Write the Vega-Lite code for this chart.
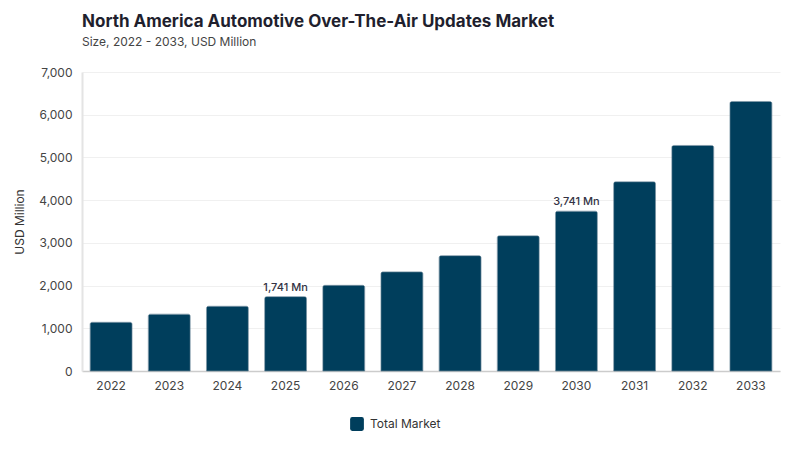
{
  "$schema": "https://vega.github.io/schema/vega-lite/v6.json",
  "width": 698,
  "height": 299,
  "autosize": {"type": "none"},
  "padding": {"left": 82, "top": 72, "right": 20, "bottom": 79},
  "background": "white",
  "title": {
    "text": "North America Automotive Over-The-Air Updates Market",
    "subtitle": "Size, 2022 - 2033, USD Million",
    "anchor": "start",
    "frame": "group",
    "font": "Inter",
    "fontSize": 17,
    "fontWeight": "bold",
    "color": "#1f1f2e",
    "subtitleFont": "Inter",
    "subtitleFontSize": 12,
    "subtitleColor": "#444444",
    "subtitlePadding": 6,
    "offset": 17
  },
  "data": {
    "values": [
      {"year": "2022", "value": 1140, "series": "Total Market", "label": ""},
      {"year": "2023", "value": 1330, "series": "Total Market", "label": ""},
      {"year": "2024", "value": 1515, "series": "Total Market", "label": ""},
      {"year": "2025", "value": 1741, "series": "Total Market", "label": "1,741 Mn"},
      {"year": "2026", "value": 2005, "series": "Total Market", "label": ""},
      {"year": "2027", "value": 2320, "series": "Total Market", "label": ""},
      {"year": "2028", "value": 2700, "series": "Total Market", "label": ""},
      {"year": "2029", "value": 3165, "series": "Total Market", "label": ""},
      {"year": "2030", "value": 3741, "series": "Total Market", "label": "3,741 Mn"},
      {"year": "2031", "value": 4430, "series": "Total Market", "label": ""},
      {"year": "2032", "value": 5280, "series": "Total Market", "label": ""},
      {"year": "2033", "value": 6310, "series": "Total Market", "label": ""}
    ]
  },
  "config": {
    "view": {"stroke": null},
    "font": "Inter",
    "axis": {
      "labelFont": "Inter",
      "labelFontSize": 12,
      "labelColor": "#444444",
      "titleFont": "Inter",
      "titleFontWeight": "normal",
      "titleFontSize": 12,
      "titleColor": "#333333"
    }
  },
  "encoding": {
    "x": {
      "field": "year",
      "type": "ordinal",
      "scale": {"paddingInner": 0.28, "paddingOuter": 0.14},
      "axis": {
        "title": null,
        "labelAngle": 0,
        "labelPadding": 9,
        "ticks": false,
        "domainColor": "#cccccc",
        "domainWidth": 1.5
      }
    },
    "y": {
      "field": "value",
      "type": "quantitative",
      "scale": {"domain": [0, 7000]},
      "axis": {
        "title": "USD Million",
        "titlePadding": 12,
        "tickCount": 7,
        "format": ",d",
        "ticks": false,
        "labelPadding": 10,
        "domain": true,
        "domainColor": "#e4e4e4",
        "domainWidth": 2,
        "grid": true,
        "gridColor": "#f0f0f0"
      }
    }
  },
  "layer": [
    {
      "mark": {
        "type": "bar",
        "cornerRadiusTopLeft": 2,
        "cornerRadiusTopRight": 2,
        "stroke": "#4a6f85",
        "strokeWidth": 0.6
      },
      "encoding": {
        "color": {
          "field": "series",
          "type": "nominal",
          "scale": {"range": ["#003e5c"]},
          "legend": {
            "title": null,
            "orient": "none",
            "legendX": 268,
            "legendY": 345,
            "symbolType": "M-0.7,-1H0.7Q1,-1 1,-0.7V0.7Q1,1 0.7,1H-0.7Q-1,1 -1,0.7V-0.7Q-1,-1 -0.7,-1Z",
            "symbolSize": 190,
            "symbolStrokeWidth": 0,
            "labelFont": "Inter",
            "labelFontSize": 12,
            "labelColor": "#333333",
            "labelOffset": 6
          }
        }
      }
    },
    {
      "mark": {
        "type": "text",
        "dy": -9,
        "font": "Inter",
        "fontSize": 11,
        "fontWeight": 500,
        "color": "#333344"
      },
      "encoding": {
        "text": {"field": "label"}
      }
    }
  ]
}
